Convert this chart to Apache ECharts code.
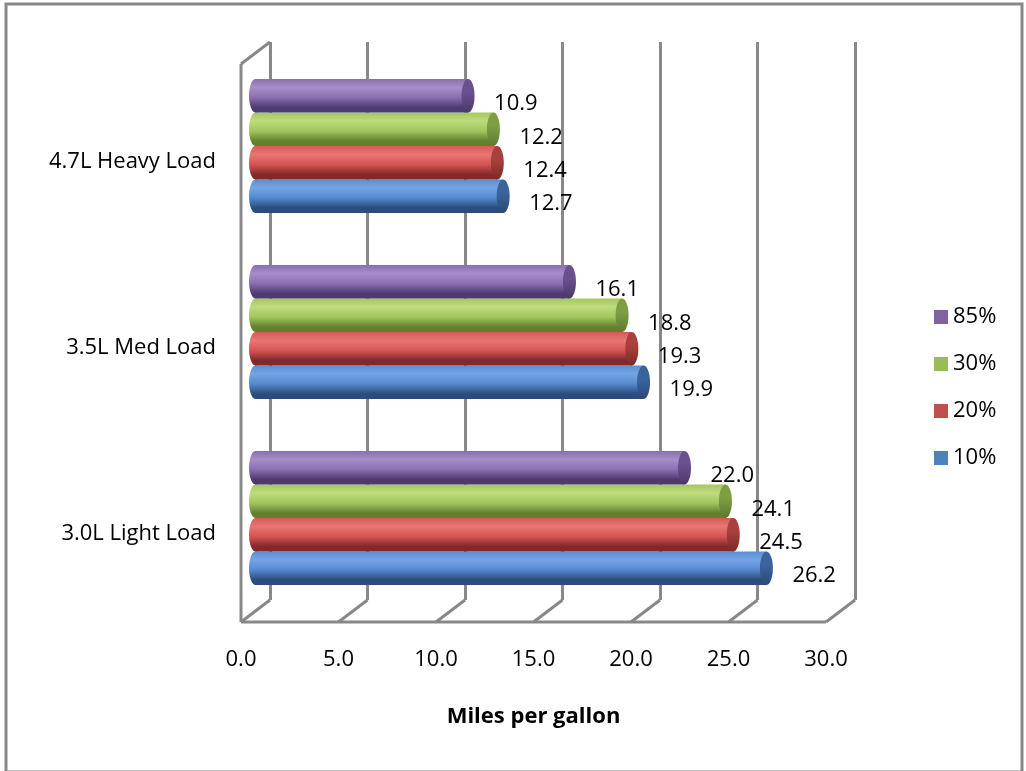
<!DOCTYPE html>
<html>
<head>
<meta charset="utf-8">
<script src="https://cdn.jsdelivr.net/npm/echarts@6/dist/echarts.min.js"></script>
<style>
  html, body { margin: 0; padding: 0; background: #fff; }
  #chart { width: 1026px; height: 771px; }
</style>
</head>
<body>
<div id="chart"></div>
<script>
// Fuel economy by engine / load and grade share
const categories = ['3.0L Light Load', '3.5L Med Load', '4.7L Heavy Load'];
const seriesNames = ['10%', '20%', '30%', '85%'];
const mpg10 = [26.2, 19.9, 12.7];
const mpg20 = [24.5, 19.3, 12.4];
const mpg30 = [24.1, 18.8, 12.2];
const mpg85 = [22.0, 16.1, 10.9];
const xTicks = [0, 5, 10, 15, 20, 25, 30];
const legendOrder = ['85%', '30%', '20%', '10%'];
const axisTitle = 'Miles per gallon';

const seriesValues = [mpg10, mpg20, mpg30, mpg85];

// Cylinder shading per series
const shades = [
  { base: '#4F81BD', top: '#5b8fd2', light: '#74a4e4', mid: '#5589cf', dark: '#2b4c7c', cap: '#3b649c', capDark: '#2a4a78' },
  { base: '#C0504D', top: '#d45a57', light: '#e87673', mid: '#d45653', dark: '#84292a', cap: '#a8403d', capDark: '#7c2a28' },
  { base: '#9BBB59', top: '#a5c760', light: '#bedb7e', mid: '#a3c65e', dark: '#62802f', cap: '#7e9e44', capDark: '#5d7a30' },
  { base: '#8064A2', top: '#8a6eae', light: '#a78dc8', mid: '#8b6fb0', dark: '#4e3a70', cap: '#6a508e', capDark: '#4c3869' }
];

// Plot box geometry: back wall, and the depth offset of the floor
const FONT = '"Open Sans", sans-serif';
const BACK = { left: 270, top: 42, width: 585, height: 558 };
const DX = 29, DY = 22;
const FRAME = '#888888';

function gridAt(f) {
  return {
    left: BACK.left - DX * f, top: BACK.top + DY * f,
    width: BACK.width, height: BACK.height,
    outerBoundsMode: 'none', containLabel: false
  };
}

function ellipse(cx, cy, rx, ry) {
  const pts = [];
  for (let k = 0; k < 40; k++) {
    const a = (k / 40) * Math.PI * 2;
    pts.push([cx + rx * Math.cos(a), cy + ry * Math.sin(a)]);
  }
  return pts;
}

function vgrad(stops) {
  return new echarts.graphic.LinearGradient(0, 0, 0, 1,
    stops.map(s => ({ offset: s[0], color: s[1] })));
}

function cylinder(si) {
  const sh = shades[si];
  return function (params, api) {
    const v = api.value(0);
    const c = api.value(1);
    const p0 = api.coord([0, c]);
    const p1 = api.coord([v, c]);
    const band = api.size([0, 1])[1];
    const h = band * 0.18;
    const cy = p0[1] + (1.5 - si) * h;
    const rx = 6.5, ry = h / 2;
    const bodyFill = vgrad([[0, sh.top], [0.25, sh.light], [0.55, sh.mid], [0.85, sh.dark], [1, sh.dark]]);
    const capFill = vgrad([[0, sh.cap], [0.4, sh.cap], [1, sh.capDark]]);
    return {
      type: 'group',
      children: [
        { type: 'polygon', shape: { points: ellipse(p0[0], cy, rx, ry) }, style: { fill: bodyFill } },
        { type: 'rect', shape: { x: p0[0], y: cy - h / 2, width: p1[0] - p0[0], height: h }, style: { fill: bodyFill } },
        { type: 'polygon', shape: { points: ellipse(p1[0], cy, rx, ry) }, style: { fill: capFill } },
        {
          type: 'text', x: p1[0] + 26, y: cy + 8,
          style: { text: v.toFixed(1), fill: '#000', font: '22px ' + FONT, align: 'left', verticalAlign: 'middle' }
        }
      ]
    };
  };
}

const chart = echarts.init(document.getElementById('chart'), null, { renderer: 'canvas' });

const series = seriesNames.map((name, si) => ({
  name,
  type: 'custom',
  xAxisIndex: 1, yAxisIndex: 1,
  renderItem: cylinder(si),
  itemStyle: { color: shades[si].base },
  encode: { x: 0, y: 1 },
  data: seriesValues[si].map((v, i) => [v, i]),
  z: 3
}));

chart.setOption({
  animation: false,
  backgroundColor: '#fff',
  textStyle: { fontFamily: FONT },
  legend: {
    data: legendOrder,
    orient: 'vertical',
    left: 929, top: 301,
    itemWidth: 14, itemHeight: 14, itemGap: 25,
    icon: 'rect',
    textStyle: { fontSize: 22, color: '#000', fontFamily: FONT, lineHeight: 22 }
  },
  grid: [gridAt(0), gridAt(0.5), gridAt(1)],
  xAxis: [
    {
      gridIndex: 0, type: 'value', min: 0, max: 30, interval: 5,
      axisLabel: { show: false }, axisLine: { show: false }, axisTick: { show: false },
      splitLine: { show: true, lineStyle: { color: FRAME, width: 3 } }
    },
    { gridIndex: 1, type: 'value', min: 0, max: 30, interval: 5, show: false },
    {
      gridIndex: 2, type: 'value', min: 0, max: 30, interval: 5,
      axisLine: { show: false }, axisTick: { show: false }, splitLine: { show: false },
      axisLabel: { margin: 27, fontSize: 22, color: '#000', fontFamily: FONT, formatter: v => v.toFixed(1) },
      name: axisTitle, nameLocation: 'middle', nameGap: 84,
      nameTextStyle: { fontSize: 22, fontWeight: 'bold', color: '#000', fontFamily: FONT }
    }
  ],
  yAxis: [
    { gridIndex: 0, type: 'category', data: categories, show: false },
    { gridIndex: 1, type: 'category', data: categories, show: false },
    {
      gridIndex: 2, type: 'category', data: categories,
      axisLine: { show: false }, axisTick: { show: false }, splitLine: { show: false },
      axisLabel: {
        margin: 25, color: '#000', fontFamily: FONT,
        formatter: v => '{c|' + v + '}',
        rich: { c: { fontSize: 22, color: '#000', fontFamily: FONT, padding: [9, 0, 0, 0] } }
      }
    }
  ],
  series
});

// Box frame: left wall edge, floor edge and floor diagonals under each gridline
const backBottom = BACK.top + BACK.height;
const frontLeft = BACK.left - DX;
const frontBottom = backBottom + DY;
const tickX = xTicks.map(t => chart.convertToPixel({ xAxisIndex: 0 }, t));
const lineStyle = { stroke: FRAME, lineWidth: 3 };
const frame = [
  { type: 'rect', shape: { x: 6, y: 4, width: 1016, height: 768 }, style: { fill: 'none', stroke: FRAME, lineWidth: 3 }, z: 0 },
  { type: 'line', shape: { x1: BACK.left, y1: BACK.top, x2: frontLeft, y2: BACK.top + DY }, style: lineStyle, z: 1 },
  { type: 'line', shape: { x1: frontLeft, y1: BACK.top + DY, x2: frontLeft, y2: frontBottom }, style: lineStyle, z: 1 },
  { type: 'line', shape: { x1: frontLeft, y1: frontBottom, x2: tickX[tickX.length - 1] - DX, y2: frontBottom }, style: lineStyle, z: 1 }
];
tickX.forEach(x => {
  frame.push({ type: 'line', shape: { x1: x, y1: backBottom, x2: x - DX, y2: frontBottom }, style: lineStyle, z: 1 });
});
chart.setOption({ graphic: { elements: frame } });
</script>
</body>
</html>
